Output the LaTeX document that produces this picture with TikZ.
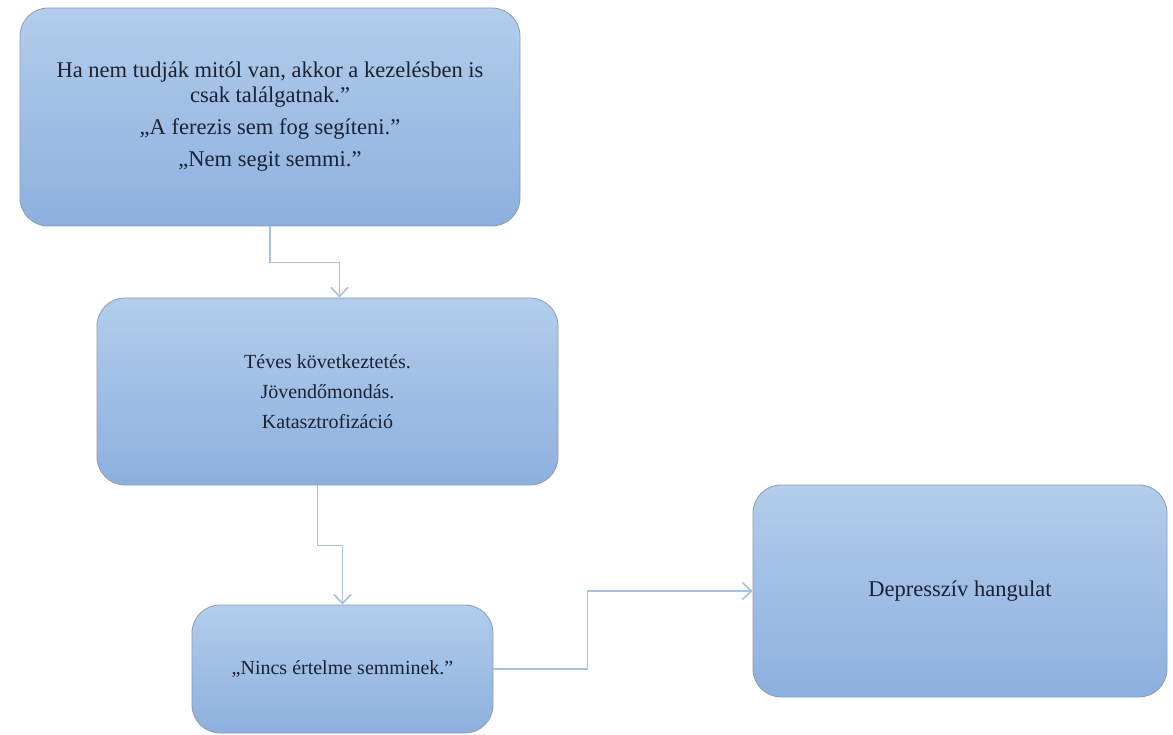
\documentclass[tikz,border=0pt]{standalone}
\usepackage{fontspec}
\setmainfont{Liberation Serif}
\definecolor{dsTop}{HTML}{B3CDEB}
\definecolor{dsBottom}{HTML}{8CB0DE}
\definecolor{dsEdge}{HTML}{8A9DB5}
\definecolor{dsLink}{HTML}{A6C2E3}
\definecolor{dsText}{HTML}{1B2233}
\usetikzlibrary{calc,positioning,arrows.meta}

\begin{document}
\begin{tikzpicture}[x=1pt, y=-1pt,
  card/.style={draw=dsEdge, line width=0.8pt, rounded corners=28pt,
    top color=dsTop, bottom color=dsBottom, text=dsText, align=center,
    font=\fontsize{22.5}{25}\selectfont, inner sep=0pt},
  small/.style={font=\fontsize{20}{24}\selectfont},
  link/.style={dsLink, line width=1.6pt, -{Straight Barb[length=9pt, width=17pt]}}]
  \useasboundingbox (0,0) rectangle (1173,735);
  % boxes of the chain
  \node[card, minimum width=500pt, minimum height=218pt] (gondolat) at (270,117)
    {Ha nem tudják mitól van, akkor a kezelésben is\\
     csak találgatnak.”\\[7pt]
     „A ferezis sem fog segíteni.”\\[7pt]
     „Nem segit semmi.”};
  \node[card, small, minimum width=461pt, minimum height=187pt] (torzitas) at (327.5,391.5)
    {Téves következtetés.\\[6pt] Jövendőmondás.\\[6pt] Katasztrofizáció};
  \node[card, small, minimum width=301pt, minimum height=128pt] (ertelme) at (342.5,669)
    {„Nincs értelme semminek.”};
  \node[card, minimum width=414pt, minimum height=212pt] (hangulat) at (960,591)
    {Depresszív hangulat};
  % elbow connectors
  \draw[link] (gondolat.south) -- ++(0,36) -| ([xshift=12pt]torzitas.north);
  \draw[link] ([xshift=-10pt]torzitas.south) -- ++(0,60) -| (ertelme.north);
  \draw[link] (ertelme.east) -- ++(94,0) |- (hangulat.west);
\end{tikzpicture}
\end{document}
